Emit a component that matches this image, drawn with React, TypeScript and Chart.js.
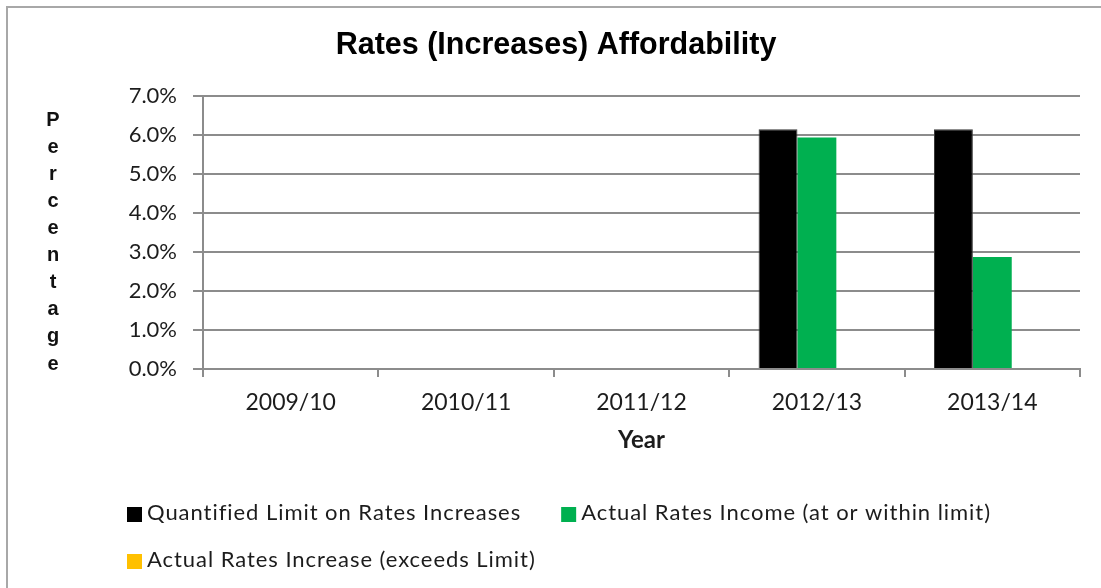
import React, { useEffect, useRef } from 'react';
import { Chart, registerables } from 'chart.js';

Chart.register(...registerables);

const chartTitle = 'Rates (Increases) Affordability';
const xAxisTitle = 'Year';
const yAxisTitle = 'Percentage';
const categories = ['2009/10', '2010/11', '2011/12', '2012/13', '2013/14'];
const seriesLabels = [
  'Quantified Limit on Rates Increases',
  'Actual Rates Income (at or within limit)',
  'Actual Rates Increase (exceeds Limit)',
];
const seriesColors = ['#000000', '#00B050', '#FFC000'];
const limitValues = [null, null, null, 6.15, 6.15];
const withinLimitValues = [null, null, null, 5.94, 2.87];
const exceedsLimitValues = [null, null, null, null, null];
const yMin = 0;
const yMax = 7;
const yStep = 1;

const W = 1101;
const H = 588;
const gridColor = '#8c8c8c';
const textColor = '#1c1c1c';
const bodyFont = 'Lato';

const framePlugin = {
  id: 'frame',
  beforeDraw(chart: any) {
    const ctx = chart.ctx;
    ctx.save();
    ctx.fillStyle = '#ffffff';
    ctx.fillRect(0, 0, chart.width, chart.height);
    ctx.strokeStyle = '#a8a8a8';
    ctx.lineWidth = 2;
    ctx.strokeRect(7, 7, chart.width + 20, chart.height + 20);
    ctx.restore();
  },
};

const verticalTitlePlugin = {
  id: 'verticalTitle',
  afterDraw(chart: any) {
    const text: string = chart.options.scales.y.title.text;
    const ctx = chart.ctx;
    ctx.save();
    ctx.font = 'bold 20px "Liberation Sans", Arial, sans-serif';
    ctx.fillStyle = '#111111';
    ctx.textAlign = 'center';
    ctx.textBaseline = 'alphabetic';
    const chars = Array.from(text);
    chars.forEach((ch, i) => {
      ctx.fillText(ch, 53, 126 + i * 27.06);
    });
    ctx.restore();
  },
};

const bottomLegendPlugin = {
  id: 'bottomLegend',
  afterDraw(chart: any) {
    const ctx = chart.ctx;
    const startX = 127;
    const maxRight = chart.chartArea.right;
    const box = 15;
    const textGap = 5;
    const itemGap = 40;
    const firstBaseline = 520;
    const rowStep = 47;
    ctx.save();
    ctx.font = `22px ${bodyFont}`;
    ctx.letterSpacing = '0.95px';
    ctx.textBaseline = 'alphabetic';
    ctx.textAlign = 'left';
    let x = startX;
    let row = 0;
    chart.data.datasets.forEach((ds: any) => {
      const tw = ctx.measureText(ds.label).width;
      const w = box + textGap + tw;
      if (x + w > maxRight && x > startX) {
        row += 1;
        x = startX;
      }
      const baseline = firstBaseline + row * rowStep;
      ctx.fillStyle = ds.backgroundColor;
      ctx.fillRect(x, baseline - 13, box, box);
      ctx.fillStyle = textColor;
      ctx.fillText(ds.label, x + box + textGap, baseline);
      x += w + itemGap;
    });
    ctx.restore();
  },
};

export default function App() {
  const canvasRef = useRef<HTMLCanvasElement | null>(null);

  useEffect(() => {
    let chart: Chart | null = null;
    let cancelled = false;
    const build = () => {
      if (cancelled || !canvasRef.current) return;
      chart = new Chart(canvasRef.current, {
        type: 'bar',
        data: {
          labels: categories,
          datasets: [
            { label: seriesLabels[0], data: limitValues, backgroundColor: seriesColors[0], borderColor: '#3a3a3a', borderWidth: 1 },
            { label: seriesLabels[1], data: withinLimitValues, backgroundColor: seriesColors[1], borderWidth: 0 },
            { label: seriesLabels[2], data: exceedsLimitValues, backgroundColor: seriesColors[2], borderWidth: 0 },
          ],
        },
        options: {
          responsive: false,
          animation: false,
          devicePixelRatio: 1,
          datasets: { bar: { barPercentage: 1, categoryPercentage: 0.665 } },
          layout: { padding: { left: 32, right: 21, top: 0, bottom: 133 } },
          plugins: {
            legend: { display: false },
            tooltip: { enabled: false },
            title: {
              display: true,
              text: chartTitle,
              color: '#000000',
              font: { family: '"Liberation Sans", Arial, sans-serif', size: 30.5, weight: 'bold' },
              padding: { top: 27, bottom: 32.5 },
            },
          },
          scales: {
            x: {
              grid: { display: true, drawOnChartArea: false, drawTicks: true, tickLength: 8, color: gridColor, lineWidth: 2, offset: true },
              border: { display: true, color: gridColor, width: 2 },
              ticks: { font: { family: bodyFont, size: 23 }, color: textColor, padding: 12 },
              title: {
                display: true,
                text: xAxisTitle,
                color: textColor,
                font: { family: bodyFont, size: 24, weight: 'bold' },
                padding: { top: 0, bottom: 0 },
              },
              afterFit: (s: any) => { s.height = 86; },
            },
            y: {
              min: yMin,
              max: yMax,
              grid: { color: gridColor, lineWidth: 2, drawTicks: true, tickLength: 10 },
              border: { display: true, color: gridColor, width: 2 },
              ticks: {
                stepSize: yStep,
                font: { family: bodyFont, size: 22 },
                color: textColor,
                padding: 16,
                callback: (v: any) => Number(v).toFixed(1) + '%',
              },
              title: { display: false, text: yAxisTitle },
              afterFit: (s: any) => { s.width = 171; },
            },
          },
        },
        plugins: [framePlugin, verticalTitlePlugin, bottomLegendPlugin],
      } as any);
    };
    const fontsApi: any = (document as any).fonts;
    if (fontsApi && fontsApi.load) {
      Promise.all([
        fontsApi.load(`22px ${bodyFont}`),
        fontsApi.load(`bold 24px ${bodyFont}`),
        fontsApi.load('bold 31px "Liberation Sans"'),
      ]).then(build, build);
    } else {
      build();
    }
    return () => {
      cancelled = true;
      if (chart) chart.destroy();
    };
  }, []);

  return (
    <div style={{ position: 'fixed', left: 0, top: 0, width: W, height: H, background: '#fff' }}>
      <canvas ref={canvasRef} width={W} height={H} style={{ display: 'block', width: W, height: H }} />
    </div>
  );
}
